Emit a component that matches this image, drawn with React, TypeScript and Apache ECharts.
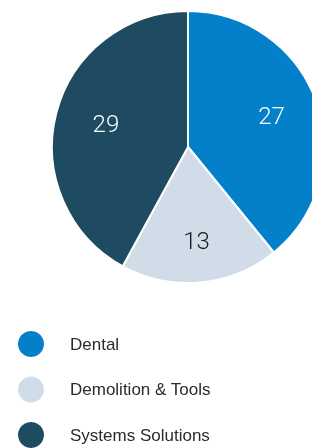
import React, { useEffect, useRef } from "react";
import * as echarts from "echarts";

const names = ["Dental", "Demolition & Tools", "Systems Solutions"];
const values = [27, 13, 29];
const colors = ["#0380c9", "#d0dde8", "#1e4b61"];
const labelColors = ["#ffffff", "#1a1a1a", "#ffffff"];
const labelPads = [
  [0, 10, 12, 0],
  [16, 0, 0, 0],
  [20, 0, 0, 18],
];

export default function App() {
  const ref = useRef<HTMLDivElement>(null);
  useEffect(() => {
    if (!ref.current) return;
    const chart = echarts.init(ref.current, null, { renderer: "svg" });
    const data = names.map((n, i) => ({
      name: n,
      value: values[i],
      itemStyle: { color: colors[i] },
    }));
    const labelData = names.map((n, i) => ({
      name: n,
      value: values[i],
      itemStyle: { color: "rgba(0,0,0,0)", borderWidth: 0 },
      label: { color: labelColors[i], padding: labelPads[i] },
    }));
    chart.setOption({
      animation: false,
      legend: {
        orient: "vertical",
        left: 18,
        top: 331,
        height: 140,
        padding: 0,
        icon: "circle",
        itemWidth: 26,
        itemHeight: 26,
        itemGap: 19.5,
        data: names,
        selectedMode: false,
        itemStyle: { borderWidth: 0 },
        textStyle: {
          fontFamily: "Liberation Sans",
          fontSize: 17,
          color: "#2b2b2b",
          padding: [0, 0, 0, 21],
        },
      },
      series: [
        {
          type: "pie",
          center: [188, 147],
          radius: [0, 136],
          startAngle: 90,
          clockwise: true,
          label: { show: false },
          labelLine: { show: false },
          itemStyle: { borderColor: "#ffffff", borderWidth: 2 },
          emphasis: { disabled: true },
          data,
        },
        {
          type: "pie",
          center: [188, 147],
          radius: [0, 182],
          startAngle: 90,
          clockwise: true,
          silent: true,
          label: {
            show: true,
            position: "inside",
            formatter: "{c}",
            fontFamily: "Roboto",
            fontWeight: 300,
            fontSize: 24,
          },
          labelLine: { show: false },
          emphasis: { disabled: true },
          data: labelData,
        },
      ],
    });
    return () => chart.dispose();
  }, []);
  return (
    <div
      ref={ref}
      style={{ position: "fixed", left: 0, top: 0, width: 312, height: 448 }}
    />
  );
}
